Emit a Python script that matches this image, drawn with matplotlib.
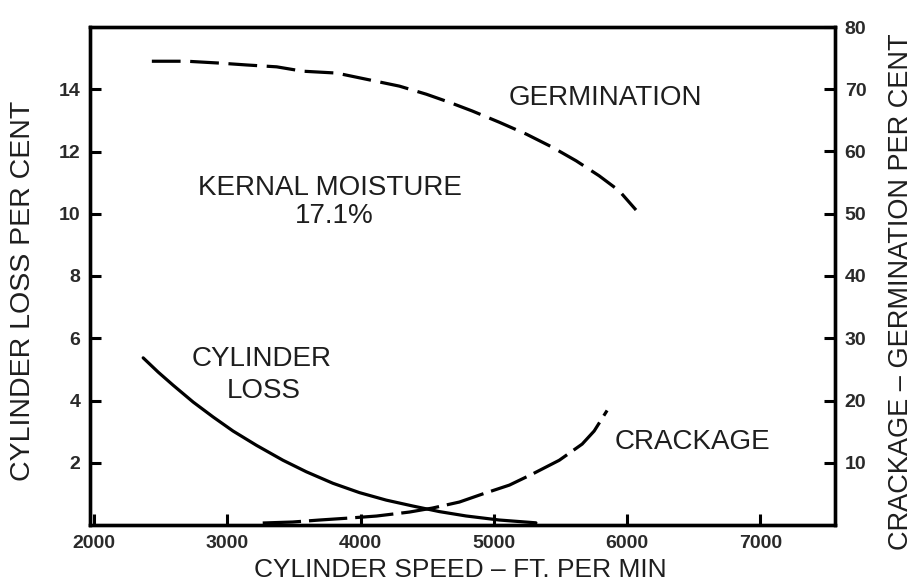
import matplotlib
matplotlib.use("Agg")
import matplotlib.pyplot as plt

plt.rcParams['font.family'] = ['Liberation Sans', 'DejaVu Sans']

# Cylinder loss (left axis, per cent)
loss_speed = [2369, 2482, 2594, 2744, 2894, 3043, 3219, 3418, 3593, 3793,
              3992, 4192, 4392, 4592, 4792, 5041, 5316]
loss_pct = [5.37, 4.91, 4.49, 3.95, 3.47, 3.02, 2.56, 2.08, 1.71, 1.34,
            1.04, 0.80, 0.61, 0.43, 0.29, 0.16, 0.07]

# Crackage (right axis, per cent)
crack_speed = [3266, 3491, 3693, 3918, 4120, 4367, 4539, 4742, 4914, 5117,
               5288, 5491, 5663, 5753, 5850]
crack_pct = [0.32, 0.48, 0.80, 1.12, 1.44, 2.08, 2.72, 3.69, 4.97, 6.41,
             8.17, 10.4, 13.0, 15.1, 18.4]

# Germination (right axis, per cent)
germ_speed = [2434, 2697, 2944, 3146, 3371, 3566, 3820, 4045, 4292, 4494,
              4667, 4839, 5041, 5243, 5438, 5618, 5790, 5940, 6067]
germ_pct = [74.5, 74.5, 74.2, 73.9, 73.6, 72.9, 72.6, 71.6, 70.5, 69.2,
            67.9, 66.5, 64.7, 62.8, 60.7, 58.5, 56.1, 53.7, 50.6]

x_ticks = [2000, 3000, 4000, 5000, 6000, 7000]
left_ticks = [2, 4, 6, 8, 10, 12, 14]
right_ticks = [10, 20, 30, 40, 50, 60, 70, 80]

TXT = '#1e1e1e'
TICK = '#2a2a2a'

fig = plt.figure(figsize=(9.14, 5.83), dpi=100)
ax = fig.add_axes([90/914, 1-525/583, (835-90)/914, (525-27)/583])
ax2 = ax.twinx()

ax.set_xlim(1970, 7560)
ax.set_ylim(0, 16)
ax2.set_ylim(0, 80)

ax.plot(loss_speed, loss_pct, color='black', lw=2.3, solid_capstyle='round')
ax2.plot(crack_speed, crack_pct, color='black', lw=2.3, dashes=(12, 2.5))
ax2.plot(germ_speed, germ_pct, color='black', lw=2.3, dashes=(9, 3))

for a in (ax, ax2):
    for s in a.spines.values():
        s.set_linewidth(2.4)
        s.set_color('black')

ax.set_xticks(x_ticks)
ax.set_xticklabels([str(v) for v in x_ticks])
ax.set_yticks(left_ticks)
ax.set_yticklabels([str(v) for v in left_ticks])
ax2.set_yticks(right_ticks)
ax2.set_yticklabels([str(v) for v in right_ticks])

common = dict(direction='in', length=8, width=2.2, pad=7, labelsize=14,
              labelcolor=TICK)
ax.tick_params(axis='x', top=False, **common)
ax.tick_params(axis='y', right=False, **common)
ax2.tick_params(axis='y', **common)
for lab in ax.get_xticklabels() + ax.get_yticklabels() + ax2.get_yticklabels():
    lab.set_fontweight('bold')

def ftext(px, py, s, size=20, rot=0):
    fig.text(px/914, 1-py/583, s, fontsize=size, color=TXT, ha='center',
             va='center', rotation=rot)

ftext(460, 570, 'CYLINDER SPEED – FT. PER MIN', size=19)
ftext(23, 291, 'CYLINDER LOSS PER CENT', size=20.5, rot=90)
ftext(901, 292, 'CRACKAGE – GERMINATION PER CENT', size=19.5, rot=90)

ftext(605, 98, 'GERMINATION')
ftext(330, 188, 'KERNAL MOISTURE')
ftext(334, 216, '17.1%')
ftext(262, 359, 'CYLINDER')
ftext(264, 391, 'LOSS')
ftext(692, 442, 'CRACKAGE')

fig.savefig('out.png', dpi=100)
